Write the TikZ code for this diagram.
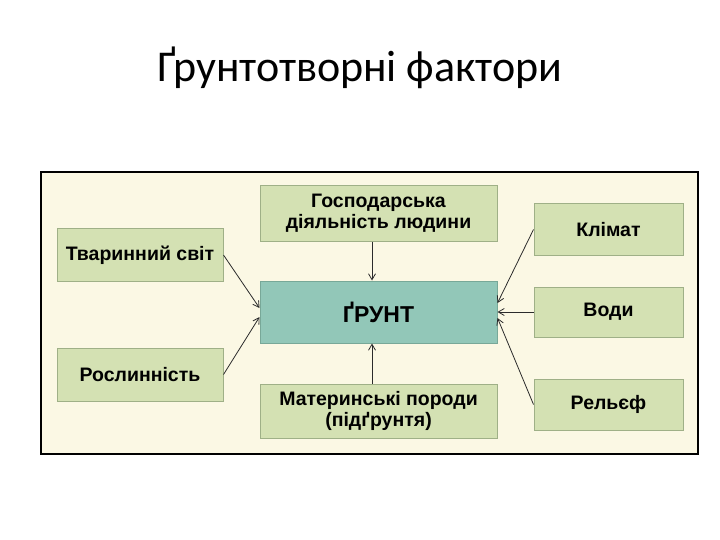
\documentclass[tikz,border=0pt]{standalone}
\usepackage{fontspec}
\setmainfont{Liberation Sans}
\newfontfamily\titlefont{Carlito}
\usetikzlibrary{arrows.meta}
\definecolor{bgcream}{HTML}{FBF8E4}
\definecolor{boxfill}{HTML}{D4E1B3}
\definecolor{boxline}{HTML}{9FB087}
\definecolor{soilfill}{HTML}{92C7B8}
\definecolor{soilline}{HTML}{78A898}
\definecolor{arrowcol}{HTML}{2B2B2B}
\tikzset{
  factor/.style={draw=boxline, line width=1pt, fill=boxfill, inner sep=0pt,
    font=\bfseries\fontsize{19.5}{21}\selectfont, align=center},
  soil/.style={draw=soilline, line width=1pt, fill=soilfill, inner sep=0pt,
    font=\bfseries\fontsize{23}{25}\selectfont},
  link/.style={draw=arrowcol, line width=0.8pt, -{Straight Barb[length=6pt,width=7pt]}}
}
\begin{document}
\begin{tikzpicture}[x=1pt,y=-1pt]
\useasboundingbox (0,0) rectangle (720,540);
\fill[white] (0,0) rectangle (720,540);
\node[font=\titlefont\fontsize{44}{48}\selectfont] (title) at (360,68) {Ґрунтотворні фактори};
\draw[fill=bgcream, draw=black, line width=1.5pt] (41,172) rectangle (698,454);
% boxes
\node[factor, minimum width=166pt, minimum height=52pt] (animals) at (140,255) {Тваринний світ};
\node[factor, minimum width=166pt, minimum height=53pt] (plants) at (140,374.5) {Рослинність};
\node[factor, minimum width=237pt, minimum height=55pt] (human) at (378.5,213.5) {Господарська\\діяльність людини};
\node[soil, minimum width=237pt, minimum height=62pt] (soilbox) at (378.5,312) {ҐРУНТ};
\node[factor, minimum width=237pt, minimum height=54pt] (rocks) at (378.5,411) {Материнські породи\\(підґрунтя)};
\node[factor, minimum width=149pt, minimum height=51pt] (climate) at (608.5,229.5) {Клімат};
\node[factor, minimum width=149pt, minimum height=50pt] (water) at (608.5,312) {Води};
\node[factor, minimum width=149pt, minimum height=51pt] (relief) at (608.5,404.5) {Рельєф};
% connectors
\draw[link] (animals.east) -- (soilbox.west |- 0,308);
\draw[link] (plants.east) -- (soilbox.west |- 0,317);
\draw[link] (human.south -| 372,0) -- (soilbox.north -| 372,0);
\draw[link] (rocks.north -| 372,0) -- (soilbox.south -| 372,0);
\draw[link] (climate.west) -- (soilbox.east |- 0,303);
\draw[link] (water.west) -- (soilbox.east |- 0,312);
\draw[link] (relief.west) -- (soilbox.east |- 0,318);
\end{tikzpicture}
\end{document}
